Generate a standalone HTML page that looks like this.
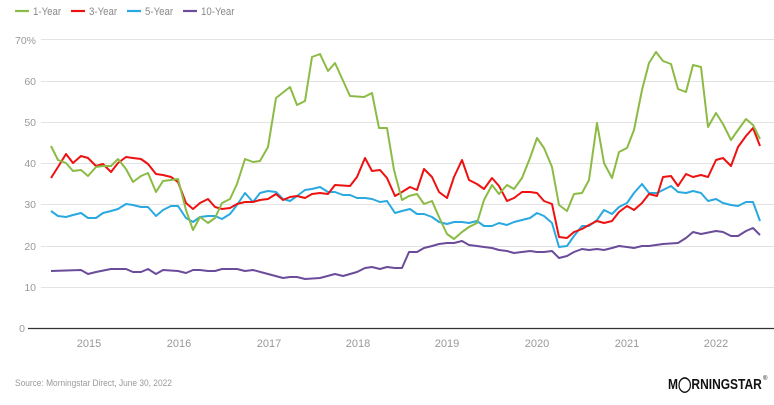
<!DOCTYPE html>
<html><head><meta charset="utf-8"><style>
html,body{margin:0;padding:0;background:#fff;}
svg{display:block;font-family:"Liberation Sans",sans-serif;}
</style></head><body>
<svg width="774" height="405" viewBox="0 0 774 405" xmlns="http://www.w3.org/2000/svg">
<rect width="774" height="405" fill="#fff"/>
<!-- legend -->
<g font-size="11" fill="#888">
<line x1="15" y1="11" x2="29" y2="11" stroke="#8bbb45" stroke-width="2.2"/>
<text x="33" y="15" transform="translate(33 0) scale(0.88 1) translate(-33 0)">1-Year</text>
<line x1="71" y1="11" x2="85" y2="11" stroke="#ee1111" stroke-width="2.2"/>
<text x="89" y="15" transform="translate(89 0) scale(0.88 1) translate(-89 0)">3-Year</text>
<line x1="127" y1="11" x2="141" y2="11" stroke="#2aa9e0" stroke-width="2.2"/>
<text x="145" y="15" transform="translate(145 0) scale(0.88 1) translate(-145 0)">5-Year</text>
<line x1="183" y1="11" x2="197" y2="11" stroke="#6b4c9a" stroke-width="2.2"/>
<text x="201" y="15" transform="translate(201 0) scale(0.88 1) translate(-201 0)">10-Year</text>
</g>
<!-- grid -->
<g stroke="#e3e3e3" stroke-width="1">
<line x1="41" y1="39.5" x2="774" y2="39.5"/>
<line x1="41" y1="81.5" x2="774" y2="81.5"/>
<line x1="41" y1="122.5" x2="774" y2="122.5"/>
<line x1="41" y1="163.5" x2="774" y2="163.5"/>
<line x1="41" y1="204.5" x2="774" y2="204.5"/>
<line x1="41" y1="246.5" x2="774" y2="246.5"/>
<line x1="41" y1="287.5" x2="774" y2="287.5"/>
</g>
<line x1="28" y1="328.5" x2="774" y2="328.5" stroke="#333" stroke-width="1.3"/>
<g font-size="10.5" fill="#999" text-anchor="end">
<text x="36" y="44">70%</text>
<text x="36" y="85">60</text>
<text x="36" y="126">50</text>
<text x="36" y="167">40</text>
<text x="36" y="208">30</text>
<text x="36" y="250">20</text>
<text x="36" y="291">10</text>
<text x="25" y="332">0</text>
</g>
<g font-size="11" fill="#999" text-anchor="middle">
<text x="89" y="347">2015</text><text x="179" y="347">2016</text><text x="269" y="347">2017</text><text x="358" y="347">2018</text>
<text x="447" y="347">2019</text><text x="537" y="347">2020</text><text x="627" y="347">2021</text><text x="716" y="347">2022</text>
</g>
<g fill="none" stroke-width="2" stroke-linejoin="round">
<polyline stroke="#6b4c9a" points="51,271 81,270 88,274 96,272 111,269 126,269 133,272 141,272 148,269 156,274 163,270 178,271 186,273 193,270 200,270 208,271 215,271 222,269 237,269 245,271 253,270 268,274 283,278 290,277 297,277 305,279 320,278 335,274 343,276 357,272 365,268 372,267 380,269 387,267 395,268 402,268 409,252 417,252 424,248 432,246 439,244 447,243 454,243 462,241 469,245 477,246 484,247 492,248 499,250 507,251 514,253 522,252 530,251 537,252 544,252 552,251 559,258 567,256 574,252 582,249 589,250 597,249 604,250 612,248 619,246 627,247 634,248 642,246 649,246 663,244 678,243 686,238 693,232 701,234 716,231 723,232 731,236 738,236 746,231 753,228 760,235"/>
<polyline stroke="#2aa9e0" points="51,211 58,216 66,217 73,215 81,213 88,218 96,218 103,213 111,211 118,209 126,204 133,205 141,207 148,207 156,216 163,210 171,206 178,206 186,218 193,222 200,217 208,216 215,216 222,219 230,214 237,205 245,193 253,202 260,193 268,191 276,192 283,199 290,201 297,196 305,190 312,189 320,187 328,192 335,192 343,195 350,195 357,198 365,198 372,199 380,202 387,201 395,213 402,211 410,209 417,214 424,214 432,217 439,222 447,224 454,222 462,222 469,223 477,221 484,226 492,226 499,223 507,225 514,222 522,220 530,218 537,213 544,216 552,223 559,247 567,246 574,236 582,226 589,226 597,220 604,210 612,214 619,207 627,203 634,193 642,184 649,193 657,193 663,190 671,186 678,192 686,193 693,191 701,193 708,201 716,199 723,203 731,205 738,206 746,202 753,202 760,221"/>
<polyline stroke="#ee1111" points="51,178 58,167 66,154 73,163 81,156 88,158 96,166 103,164 111,172 118,163 126,157 133,158 141,159 148,164 156,174 163,175 171,177 178,182 186,203 193,209 200,203 208,199 215,207 222,209 230,208 237,204 245,202 253,202 260,200 268,199 276,194 283,200 290,197 297,196 305,198 312,194 320,193 328,194 335,185 350,186 357,177 365,158 372,171 380,170 387,178 395,196 402,192 410,187 417,190 424,169 432,177 439,192 447,198 454,177 462,160 469,180 477,184 484,189 492,178 499,186 507,201 514,198 522,192 530,192 537,193 544,201 552,204 559,237 567,238 574,232 582,229 589,225 597,221 604,223 612,221 619,212 627,206 634,210 642,203 649,194 657,196 663,177 671,176 678,186 686,174 693,177 701,175 708,177 716,160 723,158 731,166 738,147 746,136 753,128 760,146"/>
<polyline stroke="#8bbb45" points="51,146 58,160 66,163 73,171 81,170 88,176 96,167 103,166 111,166 118,159 126,169 133,182 141,176 148,173 156,192 163,181 171,180 178,179 186,210 193,230 200,217 208,223 215,218 222,203 230,199 237,184 245,159 253,162 260,161 268,147 276,98 290,87 297,105 305,101 312,57 320,54 328,71 335,63 350,96 364,97 372,93 379,128 387,128 394,170 402,200 409,196 417,194 424,204 432,201 439,217 447,234 454,239 462,232 469,227 477,223 484,200 492,185 499,194 507,185 514,189 522,178 530,158 537,138 544,148 552,167 559,205 567,211 574,194 582,193 589,180 597,123 604,163 612,178 619,152 627,148 634,130 642,90 649,63 656,52 663,61 671,64 678,89 686,92 693,65 701,67 708,127 716,113 723,124 731,140 738,130 746,119 753,125 760,139"/>
</g>
<text x="15" y="386" font-size="9.5" fill="#999" transform="translate(15 0) scale(0.88 1) translate(-15 0)">Source: Morningstar Direct, June 30, 2022</text>
<text x="668" y="389" font-size="15" font-weight="bold" fill="#111" transform="translate(668 0) scale(0.8 1) translate(-668 0)">M◯RNINGSTAR</text>
<text x="763" y="380" font-size="6" fill="#111">®</text>
</svg>
</body></html>
